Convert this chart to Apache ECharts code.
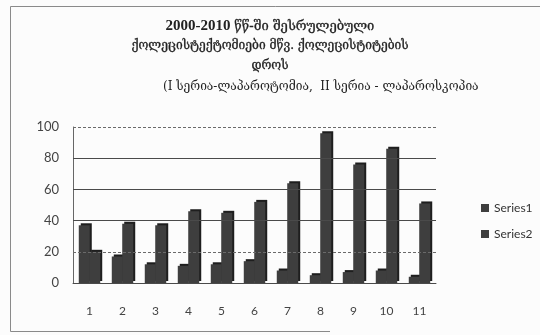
<!DOCTYPE html>
<html>
<head>
<meta charset="utf-8">
<script src="https://cdn.jsdelivr.net/npm/echarts@6/dist/echarts.min.js"></script>
<style>
  html, body { margin: 0; padding: 0; background: #ffffff; }
  #chart { width: 540px; height: 335px; }
</style>
</head>
<body>
<div id="chart"></div>
<script>
// Operations per year group: laparotomy (Series1) and laparoscopy (Series2)
const categories = ['1', '2', '3', '4', '5', '6', '7', '8', '9', '10', '11'];
const series1 = [37, 17, 12, 11, 12, 14, 8, 5, 7, 8, 4];
const series2 = [20, 38, 37, 46, 45, 52, 64, 96, 76, 86, 51];
const yTicks = [0, 20, 40, 60, 80, 100];

const titleYears = '2000-2010 ';
const titleLine1 = 'წწ-ში შესრულებული';
const titleLine2 = 'ქოლეცისტექტომიები მწვ. ქოლეცისტიტების';
const titleLine3 = 'დროს';
const subtitle = '(I სერია-ლაპაროტომია,  II სერია - ლაპაროსკოპია';

const barColor = '#3e3e3e';
const gridLines = yTicks.map(function (v) {
  const dashed = (v === 100 || v === 20);
  return {
    yAxis: v,
    lineStyle: { color: dashed ? '#6a6a6a' : '#4a4a4a', type: dashed ? [3, 2] : 'solid', width: 1 }
  };
});

const geoFont = '"DejaVu Serif"';
const ink = '#222';

const chart = echarts.init(document.getElementById('chart'), null, { renderer: 'canvas' });
chart.setOption({
  backgroundColor: '#fcfcfc',
  animation: false,
  graphic: [
    {
      type: 'polyline',
      shape: { points: [[540, 6.5], [10.5, 6.5], [10.5, 331.5], [330, 331.5]] },
      style: { fill: 'none', stroke: '#8a8a8a', lineWidth: 1 }
    },
    {
      type: 'text', left: 'center', top: 19,
      style: {
        text: '{y|' + titleYears + '}{g|' + titleLine1 + '}',
        rich: {
          y: { font: 'bold 15px "Liberation Serif"', fill: ink },
          g: { font: '13px ' + geoFont, fill: ink, stroke: ink, lineWidth: 0.3 }
        }
      }
    },
    {
      type: 'text', left: 'center', top: 40,
      style: { text: titleLine2, font: '12px ' + geoFont, fill: ink, stroke: ink, lineWidth: 0.3 }
    },
    {
      type: 'text', left: 'center', top: 60,
      style: { text: titleLine3, font: '12px ' + geoFont, fill: ink, stroke: ink, lineWidth: 0.3 }
    },
    {
      type: 'text', left: 163, top: 81,
      style: { text: subtitle, font: '12px ' + geoFont, fill: ink }
    }
  ],
  legend: {
    orient: 'vertical',
    left: 476,
    top: 197,
    itemWidth: 8,
    itemHeight: 8,
    itemGap: 14,
    icon: 'rect',
    textStyle: { fontFamily: 'Lato', fontSize: 12, color: '#333' },
    data: ['Series1', 'Series2']
  },
  grid: { left: 73, right: 104, top: 127, bottom: 52 },
  xAxis: {
    type: 'category',
    data: categories,
    axisLine: { show: true, lineStyle: { color: '#555', width: 1 } },
    axisTick: { show: false },
    axisLabel: { margin: 22, fontFamily: 'Lato', fontSize: 12, color: '#444' }
  },
  yAxis: {
    type: 'value',
    min: 0,
    max: 100,
    interval: 20,
    axisLine: { show: true, lineStyle: { color: '#666', width: 1 } },
    axisTick: { show: false },
    splitLine: { show: false },
    axisLabel: { margin: 14, fontFamily: 'Lato', fontSize: 13, color: '#444' }
  },
  series: [
    {
      name: 'Series1',
      type: 'bar',
      data: series1,
      barWidth: 11,
      barGap: '-5%',
      itemStyle: { color: barColor, shadowColor: '#1e1e1e', shadowOffsetX: 2, shadowOffsetY: -2, shadowBlur: 0 },
      markLine: {
        silent: true,
        symbol: 'none',
        label: { show: false },
        data: gridLines
      },
      z: 3
    },
    {
      name: 'Series2',
      type: 'bar',
      data: series2,
      barWidth: 11,
      itemStyle: { color: barColor, shadowColor: '#1e1e1e', shadowOffsetX: 2, shadowOffsetY: -2, shadowBlur: 0 },
      z: 3
    }
  ]
});
</script>
</body>
</html>
